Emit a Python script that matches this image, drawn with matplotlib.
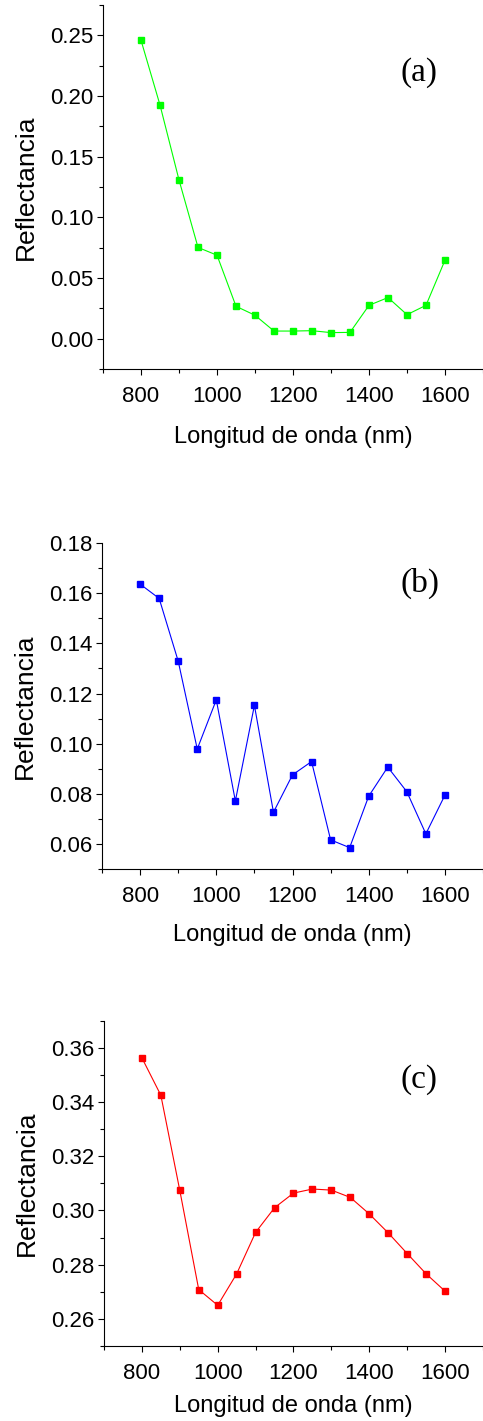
import matplotlib.pyplot as plt
from matplotlib.ticker import MultipleLocator, FormatStrFormatter

plt.rcParams['font.family'] = ['Liberation Sans', 'DejaVu Sans']

wl = [800, 850, 900, 950, 1000, 1050, 1100, 1150, 1200, 1250, 1300, 1350, 1400, 1450, 1500, 1550, 1600]

refl_a = [0.2459, 0.1925, 0.1308, 0.0752, 0.0688, 0.0267, 0.0193, 0.0063, 0.0063, 0.0066,
          0.0050, 0.0052, 0.0275, 0.0339, 0.0198, 0.0275, 0.0647]
refl_b = [0.1636, 0.1579, 0.1329, 0.0979, 0.1175, 0.0772, 0.1153, 0.0727, 0.0876, 0.0929,
          0.0617, 0.0586, 0.0791, 0.0907, 0.0809, 0.0641, 0.0795]
refl_c = [0.3563, 0.3425, 0.3074, 0.2708, 0.2650, 0.2766, 0.2919, 0.3010, 0.3064, 0.3079,
          0.3075, 0.3048, 0.2987, 0.2917, 0.2841, 0.2766, 0.2702]

labels = ['(a)', '(b)', '(c)']
colors = ['#00ff00', '#0000ff', '#ff0000']

# axes boxes in figure fractions [left, bottom, width, height]
boxes = [[0.2133, 0.7403, 0.7867, 0.2562],
         [0.2112, 0.3883, 0.7888, 0.2296],
         [0.2153, 0.0528, 0.7847, 0.2289]]
ylims = [(-0.025, 0.275), (0.05, 0.18), (0.25, 0.37)]
ymajor = [0.05, 0.02, 0.02]
xlabel_pad = [14, 12, 8]
label_pos = [(0.832, 0.813), (0.835, 0.876), (0.831, 0.818)]

fig = plt.figure(figsize=(4.83, 14.21), dpi=100)

for i, y in enumerate([refl_a, refl_b, refl_c]):
    ax = fig.add_axes(boxes[i])
    ax.plot(wl, y, color=colors[i], marker='s', markersize=4.3, linewidth=0.8)
    ax.set_xlim(700, 1700)
    ax.set_ylim(*ylims[i])
    ax.xaxis.set_minor_locator(MultipleLocator(100))
    ax.yaxis.set_major_locator(MultipleLocator(ymajor[i]))
    ax.yaxis.set_minor_locator(MultipleLocator(ymajor[i] / 2))
    ax.set_xticks([800, 1000, 1200, 1400, 1600])
    ax.yaxis.set_major_formatter(FormatStrFormatter('%.2f'))
    ax.spines['top'].set_visible(False)
    ax.spines['right'].set_visible(False)
    ax.tick_params(which='major', direction='out', length=4, width=0.8, labelsize=16)
    ax.tick_params(axis='x', which='major', pad=8)
    ax.tick_params(axis='y', which='major', pad=3)
    ax.tick_params(which='minor', direction='out', length=3, width=0.8)
    ax.set_xlabel('Longitud de onda (nm)', fontsize=17, labelpad=xlabel_pad[i])
    ax.set_ylabel('Reflectancia', fontsize=19, labelpad=9)
    ax.text(label_pos[i][0], label_pos[i][1], labels[i], transform=ax.transAxes,
            fontsize=24, family=['Liberation Serif', 'DejaVu Serif'], ha='center', va='center')

fig.savefig('out.png', dpi=100)
